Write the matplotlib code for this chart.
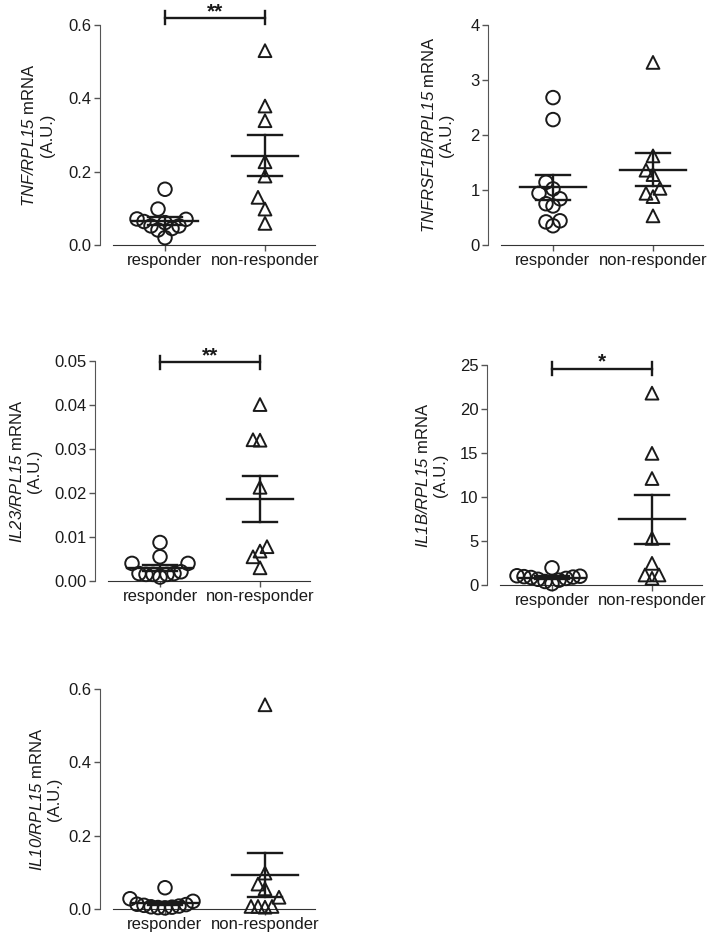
import numpy as np
import matplotlib
matplotlib.use("Agg")
import matplotlib.pyplot as plt

plt.rcParams['font.family'] = ['Liberation Sans', 'DejaVu Sans']
plt.rcParams['mathtext.fontset'] = 'custom'
plt.rcParams['mathtext.it'] = 'Liberation Sans:italic'
plt.rcParams['mathtext.rm'] = 'Liberation Sans:italic'
plt.rcParams['font.size'] = 12

groups = ['responder', 'non-responder']

# values (A.U.)
tnf_resp = [0.152, 0.098, 0.071, 0.070, 0.064, 0.052, 0.045, 0.061, 0.041, 0.052, 0.020]
tnf_nonresp = [0.530, 0.379, 0.339, 0.227, 0.188, 0.130, 0.098, 0.059]

tnfrsf1b_resp = [2.68, 2.28, 1.14, 1.02, 0.94, 0.84, 0.75, 0.71, 0.44, 0.42, 0.35]
tnfrsf1b_nonresp = [3.32, 1.62, 1.36, 1.28, 1.03, 0.94, 0.88, 0.53]

il23_resp = [0.00875, 0.0055, 0.0040, 0.0040, 0.0021, 0.0015, 0.0015, 0.0009, 0.0015, 0.0017, 0.0017]
il23_nonresp = [0.0401, 0.0321, 0.0320, 0.0213, 0.0078, 0.0068, 0.0055, 0.0030]

il1b_resp = [1.95, 1.05, 1.00, 0.95, 0.90, 0.85, 0.75, 0.65, 0.55, 0.40, 0.15]
il1b_nonresp = [21.8, 14.96, 12.1, 5.3, 2.46, 1.14, 1.14, 0.76]

il10_resp = [0.058, 0.028, 0.021, 0.013, 0.012, 0.010, 0.008, 0.006, 0.005, 0.004, 0.003]
il10_nonresp = [0.557, 0.098, 0.068, 0.055, 0.032, 0.007, 0.005, 0.007, 0.007]

ylabels = [r'$\mathit{TNF/RPL15}$ mRNA', r'$\mathit{TNFRSF1B/RPL15}$ mRNA',
           r'$\mathit{IL23/RPL15}$ mRNA', r'$\mathit{IL1B/RPL15}$ mRNA',
           r'$\mathit{IL10/RPL15}$ mRNA']
yticks = [[0.0, 0.2, 0.4, 0.6], [0, 1, 2, 3, 4], [0.0, 0.01, 0.02, 0.03, 0.04, 0.05],
          [0, 5, 10, 15, 20, 25], [0.0, 0.2, 0.4, 0.6]]
ytick_fmt = ['{:.1f}', '{:.0f}', '{:.2f}', '{:.0f}', '{:.1f}']
signif = ['**', None, '**', '*', None]
signif_level = [0.62, None, 0.0497, 24.6, None]

data = [(tnf_resp, tnf_nonresp), (tnfrsf1b_resp, tnfrsf1b_nonresp),
        (il23_resp, il23_nonresp), (il1b_resp, il1b_nonresp), (il10_resp, il10_nonresp)]

W, H = 708, 936
# axes placement in pixels: (left of y axis, top of y axis)
boxes = [(100, 25), (488, 25), (95, 361), (487, 365), (100, 689)]
lab_x = [-0.21, -0.158, -0.245, -0.18, -0.177]
ax_w, ax_h = 215, 220
xmin, xmax = -0.65, 1.5
px_per_unit = ax_w / (xmax - xmin)
ink = '#1a1a1a'


def column_scatter(vals, ymin, ymax, step=7.0, vgap=14.0):
    # points closer than vgap pixels vertically go to neighbouring columns
    ys = (np.asarray(vals) - ymin) / (ymax - ymin) * ax_h
    xs = np.zeros(len(ys))
    placed = []
    cands = [0.0]
    for n in range(1, 12):
        cands += [-n * step, n * step]
    for i in np.argsort(ys):
        y = ys[i]
        for c in cands:
            if all(abs(c - px) > step / 2 or abs(y - py) >= vgap for px, py in placed):
                xs[i] = c
                break
        placed.append((xs[i], y))
    return xs / px_per_unit


fig = plt.figure(figsize=(W / 100, H / 100), dpi=100)

for k, (resp, nonresp) in enumerate(data):
    left, top = boxes[k]
    ax = fig.add_axes([left / W, (H - top - ax_h) / H, ax_w / W, ax_h / H])
    ymin, ymax = yticks[k][0], yticks[k][-1]
    ax.set_xlim(xmin, xmax)
    ax.set_ylim(ymin, ymax)

    for gi, (vals, mk, sz) in enumerate([(resp, 'o', 95), (nonresp, '^', 85)]):
        off = column_scatter(vals, ymin, ymax)
        ax.scatter(gi + off, vals, s=sz, marker=mk, facecolors='none',
                   edgecolors=ink, linewidths=1.4, clip_on=False, zorder=3)
        m = np.mean(vals)
        sem = np.std(vals, ddof=1) / np.sqrt(len(vals))
        ax.plot([gi - 0.33, gi + 0.33], [m, m], color=ink, lw=1.7, zorder=4)
        ax.plot([gi, gi], [m - sem, m + sem], color=ink, lw=1.7, zorder=4)
        for v in (m - sem, m + sem):
            ax.plot([gi - 0.17, gi + 0.17], [v, v], color=ink, lw=1.7, zorder=4)

    if signif[k]:
        lvl = signif_level[k]
        half = 6.5 / ax_h * (ymax - ymin)
        ax.plot([0, 1], [lvl, lvl], color=ink, lw=1.7, clip_on=False)
        for xe in (0, 1):
            ax.plot([xe, xe], [lvl - half, lvl + half], color=ink, lw=1.7, clip_on=False)
        ax.annotate(signif[k], (0.5, lvl), xytext=(0, 0.5), textcoords='offset points',
                    ha='center', va='baseline', fontsize=15, fontweight='bold',
                    color=ink, annotation_clip=False)

    ax.spines['top'].set_visible(False)
    ax.spines['right'].set_visible(False)
    ax.spines['left'].set_color('#555555')
    ax.spines['bottom'].set_color('#333333')
    ax.spines['bottom'].set_bounds(-0.52, 1.5)
    ax.set_yticks(yticks[k])
    ax.set_yticklabels([ytick_fmt[k].format(t) for t in yticks[k]])
    ax.set_xticks([0, 1])
    ax.set_xticklabels(groups)
    ax.tick_params(direction='out', length=4, width=1, colors='#555555',
                   labelcolor=ink, labelsize=12, pad=2)
    ax.set_ylabel(ylabels[k] + '\n(A.U.)', fontsize=12, color=ink, linespacing=1.2)
    ax.yaxis.set_label_coords(lab_x[k], 0.5)

fig.savefig('out.png', dpi=100)
